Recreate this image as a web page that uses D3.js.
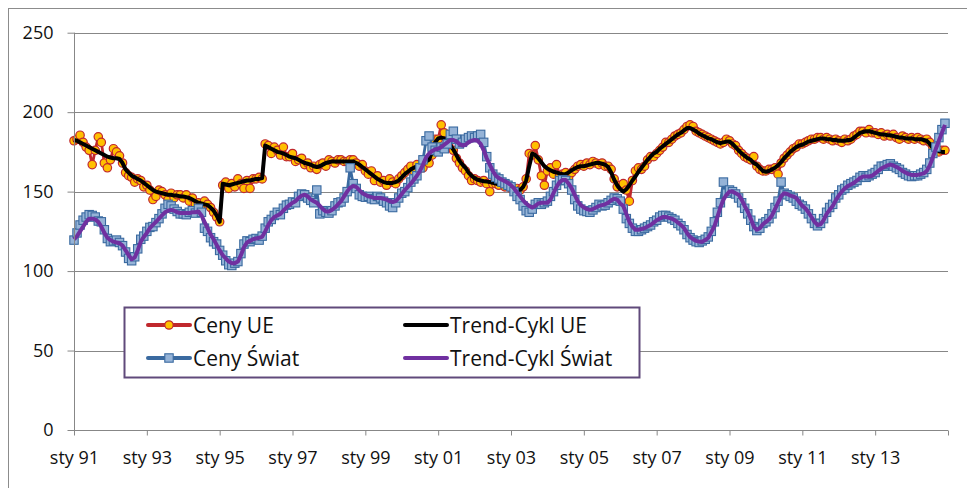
<!DOCTYPE html>
<html><head><meta charset="utf-8">
<script src="https://cdn.jsdelivr.net/npm/d3@7"></script>
<style>body{margin:0;background:#fff}svg{display:block}text{font-family:"Open Sans",sans-serif}</style>
</head><body>
<svg id="c" width="967" height="488"></svg>
<script>
// Monthly data Jan 1991 .. Dec 2014
const cenyUE = [
182,183,185.5,181,178,176,167,176,184.5,181,168,165,
170,177,175,172.5,168,162,160,159,156,158,157,153,
154,151,145,147,151,150,148,145,149,146,148,148,
146,148,144,146,142,143,141,144,142,140,137,134,
131,154,156,152,155,153,158,155,152,157,152,158,
158,159,158,180,179,174,178,176,173,178,172,172,
174,169,170,171,167,168,165,166,164,167,168,166,
170,169,168,170,170,169,169,170,170,168,166,167,
163,161,163,157,160,156,157,154,158,156,155,158,
160,162,164,166,163,167,165,165,169,168,173,183,
183,192,187,182,182,176,171,168,165,163,160,157,
158,157,156,157,155,150,155,155,154,156,153,154,
152,151,152,151,153,158,174,173,179,170,160,154,
163,165,161,167,160,161,162,159,162,164,166,167,
166,168,167,169,168,167,168,166,166,164,158,153,
154,155,151,144,157,163,165,164,166,170,172,172,
174,176,178,181,181,183,185,186,187,189,191,192,
191,188,187,186,185,184,183,182,181,180,181,183,
182,180,179,176,174,172,171,170,172,166,164,163,
163,164,164,165,161,168,171,173,175,177,178,180,
180,181,182,183,183,184,184,183,184,183,182,183,
182,181,183,182,183,185,186,188,188,187,189,187,
187,186,187,185,186,185,186,184,183,185,184,183,
184,183,184,183,182,183,181,178,177,175,176,176];
const trendUE = [
182.5,182,181,180,179,178,177,176,175,174,173,172,
171.5,171,171,170.5,168,164,162,160,159,158,157,155.5,
154,152.5,151,150,149.5,149,148.5,148,148,147.5,147.5,147,
147,146.5,146,145,144,143,142.5,142,141.5,140,138,135,
131,155,154.5,154,154.5,155,155.5,156,156.5,157,157,157.5,
158,158,158.5,179,178,177,176,175,174.5,174,173,172,
171.5,171,170,169,168,167.5,167,166,165.5,166,167,168,
168.5,169,169,169,169,169,169,169,169,168,167,165.5,
164,162.5,161,159.5,158,157,156,155.5,155.5,155.5,156,157,
159,161,162.5,164,165,166,167,168,169,170,175,181,
183.5,184,183.5,182,179,176.5,173,169.5,167,165,162,160,
158.5,157.5,157,156.5,156.3,156,155.5,155,154.5,154,153.5,153,
152.5,152,151.5,151,153,157,166,174,173,171,168.5,166,
164.5,163.5,162.5,162,161.5,161,161,162,163.5,164.5,165.5,166,
166,166.5,167,167.5,168,168,167.5,167,165.5,162,157.5,154,
151.5,150,151.5,154,157,159.5,162.5,165,167.5,170,172,174,
175,177,178.5,180,181.5,183,184.5,186,187,188.5,190,190,
189,188,186.5,185.5,184.5,183.5,183,182,181,180.5,181,181.5,
181.5,180,178,176,174,172.5,171,170,168,167,165,163,
162.5,163,164,165,166.5,168.5,171,173,175,176.5,178,179,
179.5,180.5,181.5,182,182.5,183,183.5,183.5,183,183,182.5,182.5,
182,182,182,182.5,182.5,184,185.5,187,187.5,188,188,187.5,
187,186.5,186,186,185.5,185.5,185,184.5,184,184,183.5,183.5,
183.5,183,183,183,182.5,182,180,177.5,176,175.5,175,175];
const cenySwiat = [
119.5,124,129,132,134,135.5,135,134,131.5,131,126,120.5,
118.5,119,119.5,118,116,112,108,106.5,109,114,120,122,
125,127.5,128,130.5,133,136,139.5,142,141,139,137.5,136,
136,135.5,137,138,136.5,139.5,137,127,125,121,118.5,117,
113,110,106.5,104,103.5,105,106,111,117,119,118.5,120,
120.5,119.5,122,127,131,132.5,135,137,135.5,139.5,141.5,142,
143.5,143,147,148.5,148,146,144.5,143,151,136,138,137,
136.5,138,141,143,143.5,146,150,165,155,152,148,147,
146.5,147,145.5,145,147,146,144,143,141,140,143,146,
149,150,152.5,156,158,160,165,170,182,185,178,176,
175,178,177,180,186,188,183,180,181,183,184,185,
184,185,186,181,172,165,161,159,158,156,155,154,
153,150,147,145,141,138,137,139,142,143,142,143,
144,147,150,154,157,157.5,157,155,151,145,141,139,
138,137.5,137,138.5,140,142,141,141.5,143,144.5,146,145.5,
144,139,133,130,127,125,125,126,127,128,129,131,
132,134,135,135,134,133,132,130,128.5,126,123,121,
119.5,118.5,118,119,120,121.5,125,131,137,143,156,149,
151,150,148.5,146,143,139.5,136,132,128,125.5,127,130,
131,133,136,140,144,156,149,148,147,146,144,142,
141,139,136,133,130,128.5,130,133,137,140,142,146,
148,151,152,154,155,156,157,159,160,159,160,161,
162,164,166,166,167,167.5,166,165,164,162,161,160,
159.5,160,160,161,162,164,168,174,178,184,189,193];
const trendSwiat = [
120,122,125,128,131,133,133,132.5,131,128,124,121,
119.5,118.5,118,117.5,116,113,110,107.5,108.5,113,118.5,121.5,
124,127,129,131,133,135,137,138,138.5,138,137,136.5,
136.5,136.5,136.5,137,137,137.5,135,131,127,123,120,116.5,
113,110,108,106,105,105,106,110,115,118,119,120,
120.5,121,121.5,125,129,132,134,135,136,138,140,141.5,
143,144,146,147.5,148,147,145,144,143,141,139,137.5,
137.5,138.5,140,142,144,147,150,152.5,153.5,153,151,149,
148,147,146.5,146,146,146,145.5,145,144,143.5,144,146,
148.5,151,153,155,157.5,160,163,167,171.5,174,175.5,176.5,
177,178,179.5,181,182.5,182.5,181.5,180,179,179.5,181,182,
182.5,182,180,176,171,167,163,160,158.5,157.5,156.5,155.5,
154,152,149.5,147,144.5,142.5,141,140,141,142.5,143,143,
143,145,149,153,156,157.3,157.3,155,152,148,144,141.5,
140,139,138.5,139,140,141,141.5,142,143,144.5,145.5,145,
142.5,141,136,131,128,126,126,126.5,127,128,129,130.5,
132,133,134,134,133.5,133,132,130.5,129,127,124,121.5,
120,119,118.5,118.5,119.5,121,124.5,128,134,140,145,148,
150,150,149,148,145,141,137.5,133,128,126,127,129.5,
131,132.5,135,139,143,147,149,148.5,147.5,147,146,143.5,
141,139.5,137,134,131,129,129.5,132,136,138.5,141,144.5,
147.5,150,152,153.5,154.5,155.5,157,158.5,159.5,159.5,159.5,160,
161.5,163,164.5,165.5,166.5,167,166.5,165.5,164.5,163,162,161,
160.5,160.5,160.5,161,161.5,163,166.5,171.5,177,182,187,192];
const tickLabels = ["sty 91","sty 93","sty 95","sty 97","sty 99","sty 01","sty 03","sty 05","sty 07","sty 09","sty 11","sty 13",""];
const yTicks = [0,50,100,150,200,250];
const legendNames = ["Ceny UE","Trend-Cykl UE","Ceny Świat","Trend-Cykl Świat"];

const svg = d3.select("#c");
svg.append("rect").attr("x",8.5).attr("y",8.5).attr("width",1000).attr("height",600)
  .attr("fill","#fff").attr("stroke","#8c8c8c").attr("stroke-width",1);

const x = d3.scaleLinear().domain([0,288]).range([74,948]);
const y = d3.scaleLinear().domain([0,250]).range([430,32.7]);
const g = svg.append("g");

// gridlines
g.selectAll("line.grid").data(yTicks.filter(d=>d>0)).join("line")
  .attr("x1",74).attr("x2",948).attr("y1",d=>Math.round(y(d))+0.5).attr("y2",d=>Math.round(y(d))+0.5)
  .attr("stroke","#878787").attr("stroke-width",1);

// y axis
const yAxis = d3.axisLeft(y).tickValues(yTicks).tickSize(7).tickPadding(14).tickFormat(d3.format("d"));
const ya = svg.append("g").attr("transform","translate(74.5,0)").call(yAxis);
ya.select(".domain").attr("stroke","#878787").attr("d","M0,"+y(250)+"V430");
ya.selectAll(".tick line").attr("stroke","#878787");
ya.selectAll("text").attr("font-size","18px").attr("fill","#111").attr("font-family","'Open Sans',sans-serif");

// x axis
const xt = d3.range(0,289,24);
const xAxis = d3.axisBottom(x).tickValues(xt).tickSize(5).tickPadding(16)
  .tickFormat((d,i)=>tickLabels[i]);
const xa = svg.append("g").attr("transform","translate(0,430.5)").call(xAxis);
xa.select(".domain").attr("stroke","#878787").attr("d","M74,0H948");
xa.selectAll(".tick line").attr("stroke","#878787");
xa.selectAll("text").attr("font-size","18px").attr("fill","#111").attr("font-family","'Open Sans',sans-serif");

const line = d3.line().x((d,i)=>x(i)).y(d=>y(d));

// Ceny UE
g.append("path").attr("d",line(cenyUE)).attr("fill","none").attr("stroke","#C0282D").attr("stroke-width",2.8).attr("stroke-linejoin","round");
g.selectAll("circle.ue").data(cenyUE).join("circle").attr("class","ue")
  .attr("cx",(d,i)=>x(i)).attr("cy",d=>y(d)).attr("r",4.2)
  .attr("fill","#FFC000").attr("stroke","#C0282D").attr("stroke-width",1.2);
// Trend UE
g.append("path").attr("d",line(trendUE)).attr("fill","none").attr("stroke","#000").attr("stroke-width",4).attr("stroke-linejoin","round");
// Ceny Swiat
g.append("path").attr("d",line(cenySwiat)).attr("fill","none").attr("stroke","#3A6AA0").attr("stroke-width",2.8).attr("stroke-linejoin","round");
g.selectAll("rect.sw").data(cenySwiat).join("rect").attr("class","sw")
  .attr("x",(d,i)=>x(i)-4.2).attr("y",d=>y(d)-4.2).attr("width",8.4).attr("height",8.4)
  .attr("fill","#95B3D7").attr("stroke","#3A6AA0").attr("stroke-width",1.1);
// Trend Swiat
g.append("path").attr("d",line(trendSwiat)).attr("fill","none").attr("stroke","#7030A0").attr("stroke-width",4).attr("stroke-linejoin","round");

// legend
const lg = svg.append("g");
lg.append("rect").attr("x",124.5).attr("y",307.5).attr("width",515).attr("height",70)
  .attr("fill","#fff").attr("stroke","#604A7B").attr("stroke-width",2);
const items = [
 {n:legendNames[0],c:"#C0282D",m:"circle",x:148,y:325},
 {n:legendNames[1],c:"#000",m:null,x:405,y:325},
 {n:legendNames[2],c:"#3A6AA0",m:"square",x:148,y:358},
 {n:legendNames[3],c:"#7030A0",m:null,x:405,y:358}];
items.forEach(it=>{
  lg.append("line").attr("x1",it.x).attr("x2",it.x+42).attr("y1",it.y).attr("y2",it.y)
    .attr("stroke",it.c).attr("stroke-width",4).attr("stroke-linecap","round");
  if(it.m==="circle") lg.append("circle").attr("cx",it.x+21).attr("cy",it.y).attr("r",4.2).attr("fill","#FFC000").attr("stroke","#C0282D").attr("stroke-width",1.2);
  if(it.m==="square") lg.append("rect").attr("x",it.x+21-4.2).attr("y",it.y-4.2).attr("width",8.4).attr("height",8.4).attr("fill","#95B3D7").attr("stroke","#3A6AA0").attr("stroke-width",1.1);
  lg.append("text").attr("x",it.x+45).attr("y",it.y).attr("dy","0.36em").attr("font-size","21px").attr("fill","#111").text(it.n);
});
</script>
</body></html>
